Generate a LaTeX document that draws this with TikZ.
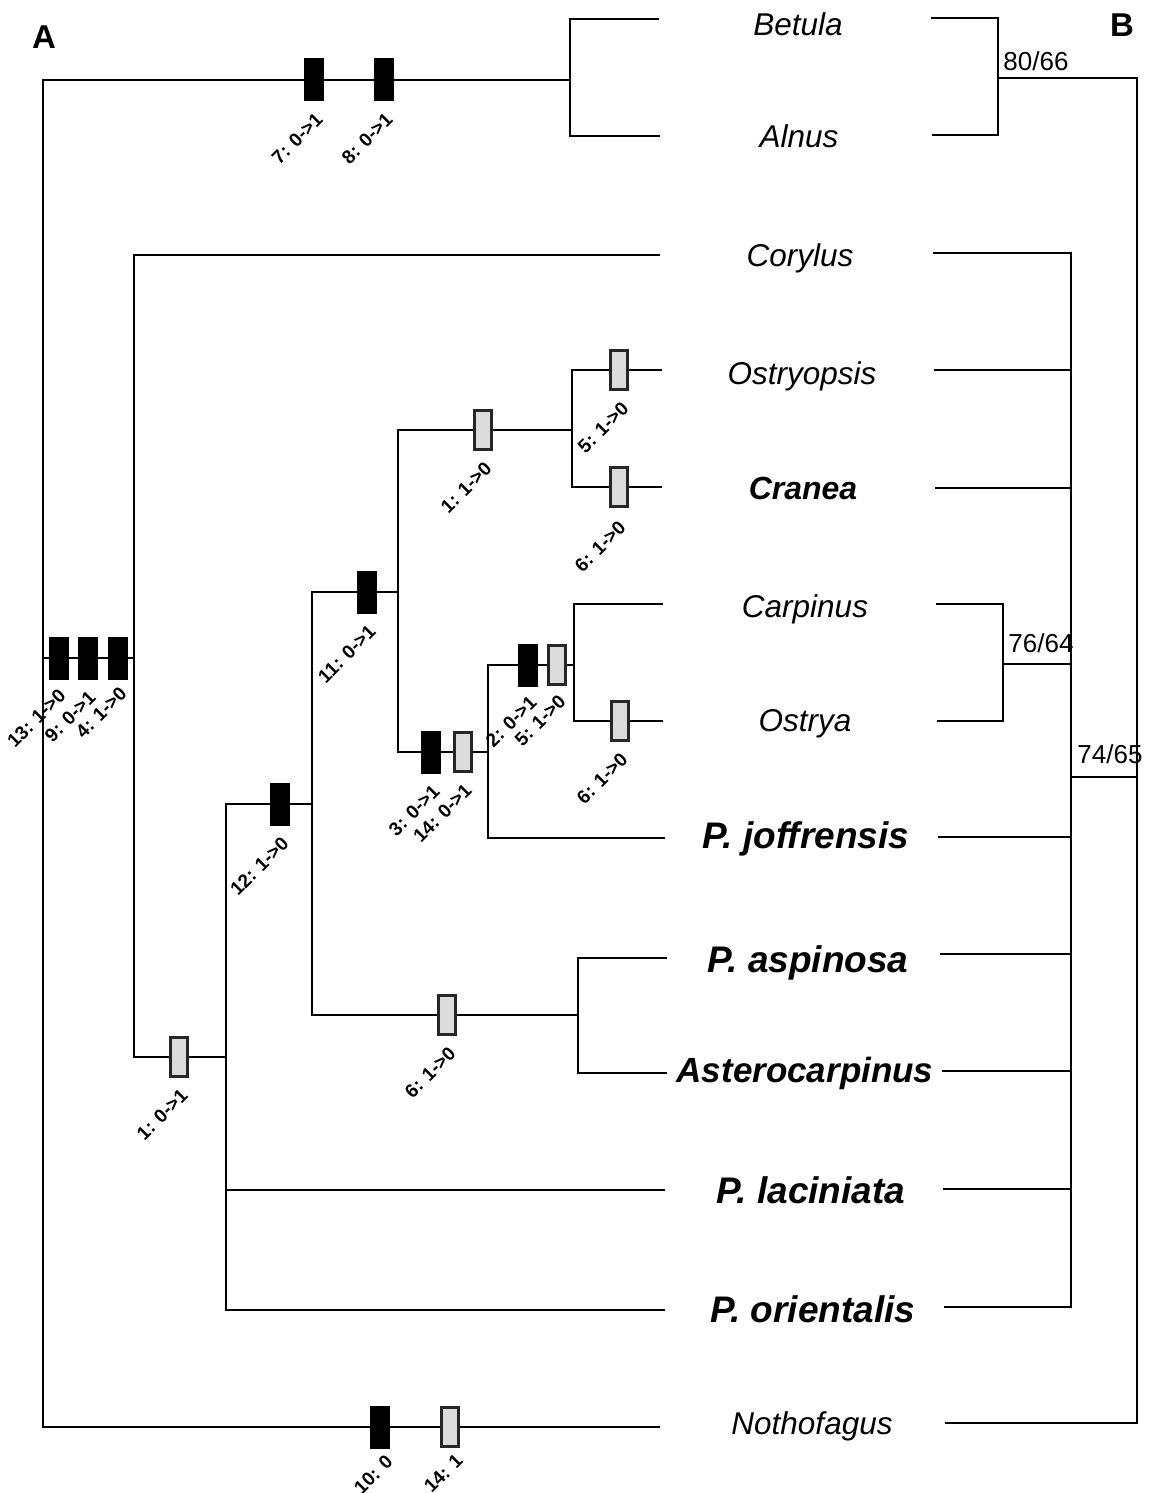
\documentclass[tikz,border=0pt]{standalone}
\usepackage{fontspec}
\setmainfont{Liberation Sans}
\usepackage{tikz}
\definecolor{homoplasy}{gray}{0.86}
\definecolor{markedge}{gray}{0.15}

\tikzset{
  branch/.style={line width=1.6pt, black},
  bbranch/.style={line width=1.3pt, black},
  synmark/.style={fill=black, minimum width=20pt, minimum height=43pt, inner sep=0pt},
  hommark/.style={fill=homoplasy, draw=markedge, line width=2.2pt, minimum width=17pt, minimum height=39pt, inner sep=0pt},
  chg/.style={font=\fontsize{19}{21}\selectfont\bfseries, rotate=45, anchor=east, inner sep=1pt},
  taxon/.style={font=\fontsize{31.5}{36}\selectfont\itshape, anchor=base, inner sep=0pt},
  newtaxon/.style={font=\fontsize{37}{42}\selectfont\bfseries\itshape, anchor=base, inner sep=0pt},
  support/.style={font=\fontsize{26}{30}\selectfont, anchor=base, inner sep=0pt},
  panel/.style={font=\fontsize{33}{38}\selectfont\bfseries, anchor=base, inner sep=0pt}
}

\begin{document}
\begin{tikzpicture}[x=1pt, y=-1pt]
  \useasboundingbox (0,0) rectangle (1149,1493);

  % --- Left: tree A with character changes ---
  % Internal nodes
  \coordinate (kRoot) at (43,658);
  \coordinate (kBA)   at (570,80);
  \coordinate (kIn)   at (134,658);
  \coordinate (kCore) at (226,1057);
  \coordinate (k12)   at (312,804);
  \coordinate (k11)   at (398,592);
  \coordinate (kOC)   at (572,430);
  \coordinate (k3)    at (488,752);
  \coordinate (kCO)   at (574,665);
  \coordinate (kAA)   at (578,1015);

  % Tip ends
  \coordinate (tBet) at (659,19);
  \coordinate (tAln) at (660,136);
  \coordinate (tCor) at (660,255);
  \coordinate (tOsp) at (662,370);
  \coordinate (tCra) at (662,487);
  \coordinate (tCar) at (663,604);
  \coordinate (tOst) at (663,721);
  \coordinate (tJof) at (665,838);
  \coordinate (tAsp) at (667,958);
  \coordinate (tAst) at (667,1073);
  \coordinate (tLac) at (665,1190);
  \coordinate (tOri) at (665,1310);
  \coordinate (tNot) at (660,1427);

  % Branches
  \draw[branch] (kBA) -| (kRoot) |- (tNot);
  \draw[branch] (kRoot) -- (kIn);
  \draw[branch] (tBet) -| (kBA) |- (tAln);
  \draw[branch] (tCor) -| (kIn) |- (kCore);
  \draw[branch] (k12) -| (kCore) |- (tOri);
  \draw[branch] (kCore) |- (tLac);
  \draw[branch] (k11) -| (k12) |- (kAA);
  \draw[branch] (kOC) -| (k11) |- (k3);
  \draw[branch] (tOsp) -| (kOC) |- (tCra);
  \draw[branch] (kCO) -| (k3) |- (tJof);
  \draw[branch] (tCar) -| (kCO) |- (tOst);
  \draw[branch] (tAsp) -| (kAA) |- (tAst);

  % Character changes (black: unique, grey: homoplastic)
  \node[synmark] (m7) at (314,80) {};
  \node[synmark] (m8) at (384,80) {};
  \node[chg] (c7) at ([xshift=6pt,yshift=-14pt]m7.south) {7: 0->1};
  \node[chg] (c8) at ([xshift=6pt,yshift=-14pt]m8.south) {8: 0->1};

  \node[synmark] (m13) at (59,658) {};
  \node[synmark] (m9)  at (88,658) {};
  \node[synmark] (m4)  at (118,658) {};
  \node[chg] (c13) at ([xshift=4pt,yshift=-12pt]m13.south) {13: 1->0};
  \node[chg] (c9)  at ([xshift=5pt,yshift=-14pt]m9.south) {9: 0->1};
  \node[chg] (c4)  at ([xshift=6pt,yshift=-10pt]m4.south) {4: 1->0};

  \node[hommark] (m1a) at (179,1057) {};
  \node[chg] (c1a) at ([xshift=6pt,yshift=-14pt]m1a.south) {1: 0->1};

  \node[synmark] (m12) at (280,804) {};
  \node[chg] (c12) at ([xshift=6pt,yshift=-14pt]m12.south) {12: 1->0};

  \node[synmark] (m11) at (367,592) {};
  \node[chg] (c11) at ([xshift=6pt,yshift=-14pt]m11.south) {11: 0->1};

  \node[hommark] (m6a) at (447,1015) {};
  \node[chg] (c6a) at ([xshift=6pt,yshift=-14pt]m6a.south) {6: 1->0};

  \node[hommark] (m1b) at (483,430) {};
  \node[chg] (c1b) at ([xshift=6pt,yshift=-14pt]m1b.south) {1: 1->0};

  \node[hommark] (m5a) at (619,370) {};
  \node[chg] (c5a) at ([xshift=7pt,yshift=-14pt]m5a.south) {5: 1->0};
  \node[hommark] (m6b) at (619,487) {};
  \node[chg] (c6b) at ([xshift=4pt,yshift=-16pt]m6b.south) {6: 1->0};

  \node[synmark] (m3)   at (431,752) {};
  \node[hommark] (m14a) at (463,752) {};
  \node[chg] (c3)   at ([xshift=6pt,yshift=-14pt]m3.south) {3: 0->1};
  \node[chg] (c14a) at ([xshift=6pt,yshift=-14pt]m14a.south) {14: 0->1};

  \node[synmark] (m2)  at (528,665) {};
  \node[hommark] (m5b) at (557,665) {};
  \node[chg] (c2)  at ([xshift=6pt,yshift=-12pt]m2.south) {2: 0->1};
  \node[chg] (c5b) at ([xshift=6pt,yshift=-12pt]m5b.south) {5: 1->0};

  \node[hommark] (m6c) at (620,721) {};
  \node[chg] (c6c) at ([xshift=5pt,yshift=-14pt]m6c.south) {6: 1->0};

  \node[synmark] (m10)  at (380,1427) {};
  \node[hommark] (m14b) at (450,1427) {};
  \node[chg] (c10)  at ([xshift=10pt,yshift=-9pt]m10.south) {10: 0};
  \node[chg] (c14b) at ([xshift=10pt,yshift=-9pt]m14b.south) {14: 1};

  % Taxa
  \node[taxon]    (nBet) at (798,36)   {Betula};
  \node[taxon]    (nAln) at (799,147)  {Alnus};
  \node[taxon]    (nCor) at (800,266)  {Corylus};
  \node[taxon]    (nOsp) at (802,384)  {Ostryopsis};
  \node[newtaxon, font=\fontsize{32}{36}\selectfont\bfseries\itshape] (nCra) at (803,499) {Cranea};
  \node[taxon]    (nCar) at (805,617)  {Carpinus};
  \node[taxon]    (nOst) at (805,731)  {Ostrya};
  \node[newtaxon] (nJof) at (806,848)  {P. joffrensis};
  \node[newtaxon] (nAsp) at (808,972)  {P. aspinosa};
  \node[newtaxon, font=\fontsize{35}{40}\selectfont\bfseries\itshape] (nAst) at (805,1082) {Asterocarpinus};
  \node[newtaxon] (nLac) at (811,1203) {P. laciniata};
  \node[newtaxon] (nOri) at (813,1322) {P. orientalis};
  \node[taxon]    (nNot) at (812,1434) {Nothofagus};

  % --- Right: tree B with support values ---
  \coordinate (bBA)   at (998,78);
  \coordinate (bRoot) at (1137,777);
  \coordinate (bIn)   at (1071,777);
  \coordinate (bCO)   at (1003,664);

  \coordinate (sBet) at (931,18);
  \coordinate (sAln) at (932,135);
  \coordinate (sCor) at (933,253);
  \coordinate (sOsp) at (934,370);
  \coordinate (sCra) at (935,488);
  \coordinate (sCar) at (936,604);
  \coordinate (sOst) at (937,721);
  \coordinate (sJof) at (938,837);
  \coordinate (sAsp) at (940,954);
  \coordinate (sAst) at (942,1071);
  \coordinate (sLac) at (943,1189);
  \coordinate (sOri) at (944,1307);
  \coordinate (sNot) at (945,1423);

  \draw[bbranch] (sBet) -| (bBA) |- (sAln);
  \draw[bbranch] (bBA) -| (bRoot) |- (sNot);
  \draw[bbranch] (bIn) -- (bRoot);
  \draw[bbranch] (sCor) -| (bIn) |- (sOri);
  \draw[bbranch] (sOsp) -- (sOsp -| bIn);
  \draw[bbranch] (sCra) -- (sCra -| bIn);
  \draw[bbranch] (sCar) -| (bCO) |- (sOst);
  \draw[bbranch] (bCO) -- (bCO -| bIn);
  \draw[bbranch] (sJof) -- (sJof -| bIn);
  \draw[bbranch] (sAsp) -- (sAsp -| bIn);
  \draw[bbranch] (sAst) -- (sAst -| bIn);
  \draw[bbranch] (sLac) -- (sLac -| bIn);

  % Support values
  \node[support] (v80) at (1036,71)  {80/66};
  \node[support] (v76) at (1041,652) {76/64};
  \node[support] (v74) at (1110,763) {74/65};

  % Panel letters
  \node[panel] (pA) at (44,49)   {A};
  \node[panel] (pB) at (1122,37) {B};
\end{tikzpicture}
\end{document}
